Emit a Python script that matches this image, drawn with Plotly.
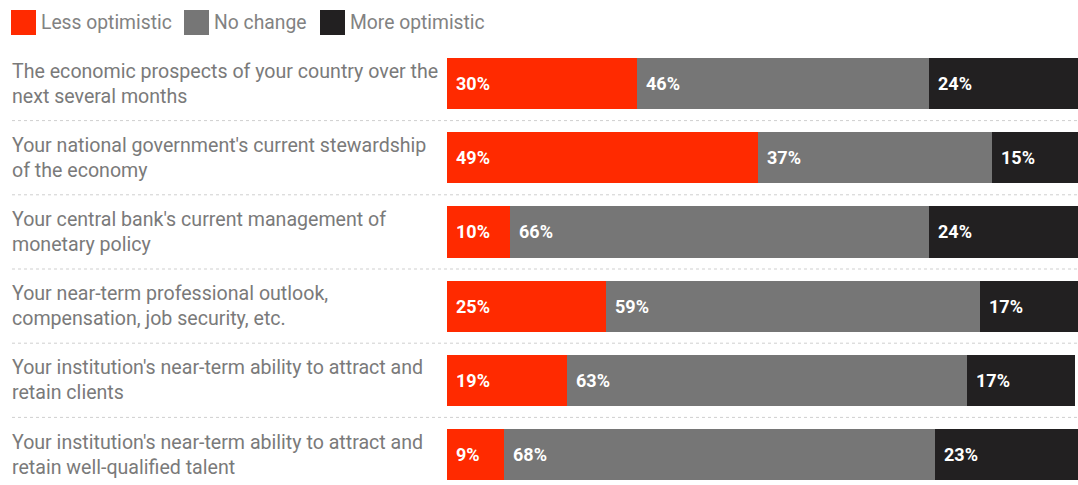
import plotly.graph_objects as go

# Survey items (two-line labels) and response shares, in percent
categories = [
    "The economic prospects of your country over the<br>next several months",
    "Your national government's current stewardship<br>of the economy",
    "Your central bank's current management of<br>monetary policy",
    "Your near-term professional outlook,<br>compensation, job security, etc.",
    "Your institution's near-term ability to attract and<br>retain clients",
    "Your institution's near-term ability to attract and<br>retain well-qualified talent",
]
less_optimistic = [30, 49, 10, 25, 19, 9]
no_change = [46, 37, 66, 59, 63, 68]
more_optimistic = [24, 15, 24, 17, 17, 23]

series_names = ["Less optimistic", "No change", "More optimistic"]
series_values = [less_optimistic, no_change, more_optimistic]
series_colors = ["#ff2a00", "#767676", "#222021"]

W, H = 1078, 485
LABEL_FONT = "Roboto, Arial, sans-serif"
plot_top = 40
plot_h = H - plot_top


def py_to_paper(py):
    """Convert a pixel row (from the top of the page) to paper y."""
    return 1 + (plot_top - py) / plot_h


fig = go.Figure()
ypos = list(range(len(categories)))

annotations = []
for name, vals, color in zip(series_names, series_values, series_colors):
    fig.add_trace(go.Bar(
        name=name, x=vals, y=ypos, orientation="h",
        marker=dict(color=color, line=dict(width=0)),
        hoverinfo="x+name", showlegend=False,
    ))

# Value labels at the left edge of each segment
for i in ypos:
    base = 0
    for vals in series_values:
        v = vals[i]
        annotations.append(dict(
            x=base, y=i, xref="x", yref="y", text=f"{v}%",
            showarrow=False, xanchor="left", yanchor="middle", xshift=7,
            font=dict(family=LABEL_FONT, size=18, color="white", weight="bold"),
        ))
        base += v

# Category labels on the left
for i, cat in enumerate(categories):
    annotations.append(dict(
        x=10 / W, y=i, xref="paper", yref="y", text=cat,
        showarrow=False, xanchor="left", yanchor="middle", align="left",
        font=dict(family=LABEL_FONT, size=19.6, color="#7a7a7a"),
    ))

shapes = []
# Dotted separators between rows
for i in range(len(categories) - 1):
    shapes.append(dict(
        type="line", xref="paper", yref="y", x0=12 / W, x1=1, y0=i + 0.5, y1=i + 0.5,
        line=dict(color="#cfcfcf", width=1, dash="dot"),
    ))

# Legend drawn as squares with labels
legend_x = [11, 184, 320]
for name, color, lx in zip(series_names, series_colors, legend_x):
    shapes.append(dict(
        type="rect", xref="paper", yref="paper",
        x0=lx / W, x1=(lx + 25) / W, y0=py_to_paper(35), y1=py_to_paper(10),
        fillcolor=color, line=dict(width=0),
    ))
    annotations.append(dict(
        x=(lx + 28) / W, y=py_to_paper(22), xref="paper", yref="paper", text=name,
        showarrow=False, xanchor="left", yanchor="middle",
        font=dict(family=LABEL_FONT, size=19.3, color="#828282"),
    ))

# Row centres at 83.5 px + 74.2 px per row
top_px, pitch = 83.5, 74.2
y_lo = (plot_top - top_px) / pitch
y_hi = (H - top_px) / pitch

scale = 6.34  # px per percent
x_max = (W - 447) / scale

fig.update_layout(
    width=W, height=H, barmode="stack", bargap=0.31,
    margin=dict(l=0, r=0, t=plot_top, b=0),
    paper_bgcolor="white", plot_bgcolor="white",
    xaxis=dict(domain=[447 / W, 1], range=[0, x_max], visible=False, fixedrange=True),
    yaxis=dict(range=[y_hi, y_lo], visible=False, fixedrange=True),
    annotations=annotations, shapes=shapes,
)

fig.write_html("out.html")
